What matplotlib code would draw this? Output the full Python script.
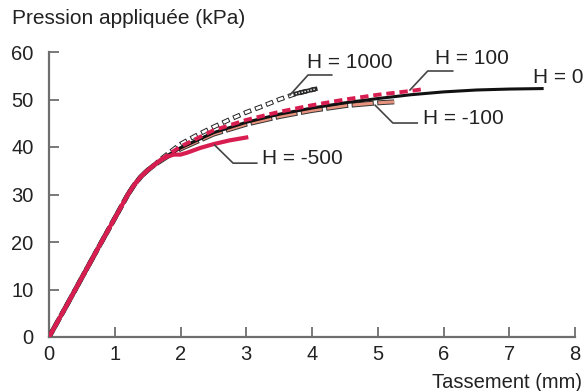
import matplotlib
matplotlib.use('Agg')
import matplotlib.pyplot as plt
import numpy as np

plt.rcParams['font.family'] = ['Liberation Sans', 'DejaVu Sans']
plt.rcParams['lines.scale_dashes'] = False

# common initial branch (mm, kPa)
x_start = [0, 0.25, 0.5, 0.75, 1.0, 1.2, 1.3, 1.4, 1.5, 1.6]
y_start = [0, 6.2, 12.5, 18.8, 25, 30, 32.1, 33.8, 35.1, 36.2]

# H = 0
x_h0 = [1.7, 1.8, 2, 2.5, 3, 3.5, 4, 4.5, 5, 5.5, 6, 6.5, 7, 7.5]
y_h0 = [37.2, 38.1, 39.8, 43, 45.2, 46.9, 48.2, 49.3, 50.2, 51, 51.6, 52, 52.2, 52.3]
# H = 100
x_h100 = [1.7, 1.8, 2, 2.5, 3, 3.5, 4, 4.5, 5, 5.5, 5.7]
y_h100 = [37.3, 38.3, 40.1, 43.5, 45.7, 47.4, 48.8, 50, 51, 51.8, 52.2]
# H = 1000
x_h1000 = [1.7, 1.8, 2, 2.25, 2.5, 2.75, 3, 3.25, 3.5, 3.75, 4.05]
y_h1000 = [37.4, 38.5, 40.6, 42.5, 44.2, 45.8, 47.3, 48.6, 50.0, 51.2, 52.2]
# H = -100
x_hm100 = [1.7, 1.8, 2, 2.5, 3, 3.5, 4, 4.5, 5, 5.25]
y_hm100 = [37.1, 38.0, 39.6, 42.7, 44.8, 46.4, 47.7, 48.7, 49.3, 49.5]
# H = -500
x_hm500 = [1.7, 1.8, 1.9, 2.0, 2.1, 2.3, 2.5, 2.75, 3.0]
y_hm500 = [37.3, 38.0, 38.4, 38.4, 38.8, 39.8, 40.6, 41.4, 42.0]

# labels: text, text pos, curve point, corner, line end
labels = [
    ('H = 1000', (3.92, 57.7), (3.665, 50.95), (3.94, 55.16), (4.30, 55.16)),
    ('H = 100', (5.87, 58.7), (5.49, 52.0), (5.76, 56.0), (6.14, 56.0)),
    ('H = 0', (7.36, 54.7), None, None, None),
    ('H = -100', (5.69, 46.1), (4.96, 48.8), (5.23, 45.05), (5.60, 45.05)),
    ('H = -500', (3.24, 37.5), (2.52, 40.4), (2.80, 36.6), (3.16, 36.6)),
]

red = '#d81e50'
salmon = '#e8937e'

fig = plt.figure(figsize=(5.85, 3.91), dpi=100)
ax = fig.add_axes([49/585, 54/391, 526/585, 285/391])

def full(xs, ys):
    return np.array(x_start + xs), np.array(y_start + ys)

# H = 1000: hollow rectangles, dense near the end
x, y = full(x_h1000, y_h1000)
ax.plot(x, y, color='#222222', lw=3.4, ls=(0, (5.5, 3)), dash_capstyle='butt', zorder=2)
ax.plot(x, y, color='white', lw=2.0, ls=(7.8, (4.1, 4.4)), dash_capstyle='butt', zorder=2.1)
m = x >= 3.6
ax.plot(x[m], y[m], color='#2a2a2a', lw=3.2, zorder=2.2)
ax.plot(x[m], y[m], color='white', lw=1.0, ls=(0, (1, 1.2)), dash_capstyle='butt', zorder=2.3)

# H = -100: salmon rectangles with outline
x, y = full(x_hm100, y_hm100)
ax.plot(x, y, color='#333333', lw=3.6, ls=(0, (16, 2.5)), dash_capstyle='butt', zorder=3)
ax.plot(x, y, color=salmon, lw=2.2, ls=(17.8, (14.6, 3.9)), dash_capstyle='butt', zorder=3.1)

# H = 0
x, y = full(x_h0, y_h0)
ax.plot(x, y, color='#111111', lw=2.2, zorder=4)

# H = 100
x, y = full(x_h100, y_h100)
ax.plot(x, y, color=red, lw=2.8, ls=(0, (6, 3.5)), dash_capstyle='butt', zorder=5)

# H = -500
x, y = full(x_hm500, y_hm500)
ax.plot(x, y, color=red, lw=3.0, zorder=6)

for txt, tpos, pt, corner, end in labels:
    ax.text(tpos[0], tpos[1], txt, ha='left', va='center', fontsize=15, color='#222222', clip_on=False)
    if pt is not None:
        ax.plot([pt[0], corner[0], end[0]], [pt[1], corner[1], end[1]],
                color='#444444', lw=1.2, zorder=7, clip_on=False)

ax.set_xlim(0, 8)
ax.set_ylim(0, 60)
ax.set_xticks(range(0, 9))
ax.set_yticks(range(0, 61, 10))
for s in ['top', 'right']:
    ax.spines[s].set_visible(False)
for s in ['left', 'bottom']:
    ax.spines[s].set_color('#6e6e6e')
    ax.spines[s].set_linewidth(1.6)
ax.tick_params(direction='in', length=7, width=1.3, color='#6e6e6e',
               labelsize=14.5, labelcolor='#222222')
ax.tick_params(axis='y', pad=11)
ax.tick_params(axis='x', pad=6)

fig.text(12/585, 1 - 18/391, 'Pression appliquée (kPa)', ha='left', va='center', fontsize=15, color='#222222')
fig.text(582/585, 1 - 382/391, 'Tassement (mm)', ha='right', va='center', fontsize=14.5, color='#222222')

fig.savefig('out.png', dpi=100)
